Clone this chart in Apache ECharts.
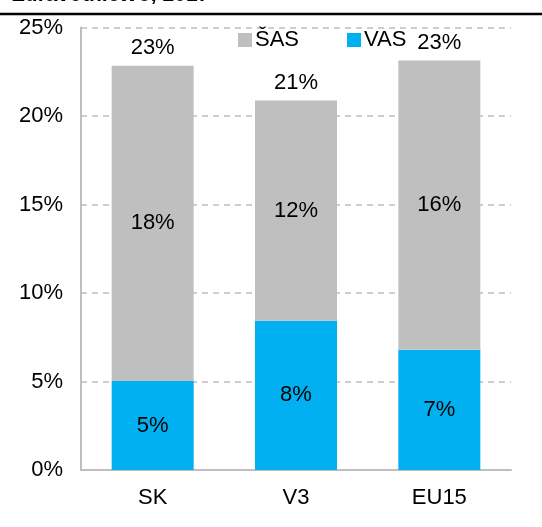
<!DOCTYPE html>
<html>
<head>
<meta charset="utf-8">
<script src="https://cdn.jsdelivr.net/npm/echarts@6/dist/echarts.min.js"></script>
<style>
  html, body { margin: 0; padding: 0; background: #fff; }
  #chart { width: 542px; height: 527px; }
</style>
</head>
<body>
<div id="chart"></div>
<script>
var categories = ['SK', 'V3', 'EU15'];
var vas = [5.03, 8.43, 6.79];
var sas = [17.81, 12.44, 16.34];
var totals = [22.84, 20.87, 23.13];
var yTicks = [0, 5, 10, 15, 20, 25];

var FONT = '"Liberation Sans Narrow", "Arial Narrow", "Liberation Sans", sans-serif';
var FS = 22;

var chart = echarts.init(document.getElementById('chart'));

var pct = function (p) { return Math.round(p.value) + '%'; };

chart.setOption({
  animation: false,
  textStyle: { fontFamily: FONT },
  grid: { left: 81, right: 31, top: 27.5, bottom: 57 },
  graphic: [
    {
      type: 'text', left: 12, top: -15,
      style: { text: 'Zdravotníctvo, 2017', font: 'bold 21px ' + FONT, fill: '#000' }
    },
    {
      type: 'line', shape: { x1: 0, y1: 14, x2: 542, y2: 14 },
      style: { stroke: '#000', lineWidth: 2.5 }
    }
  ],
  legend: {
    data: ['ŠAS', 'VAS'],
    top: 24, left: 233,
    itemWidth: 14, itemHeight: 14, itemGap: 48,
    icon: 'rect',
    textStyle: { fontFamily: FONT, fontSize: FS, color: '#000', padding: [0, 0, 0, -2] }
  },
  xAxis: {
    type: 'category',
    data: categories,
    axisLine: { lineStyle: { color: '#bfbfbf', width: 2 } },
    axisTick: { show: false },
    axisLabel: { color: '#000', fontSize: FS, margin: 17, fontFamily: FONT }
  },
  yAxis: {
    type: 'value',
    min: yTicks[0], max: yTicks[yTicks.length - 1], interval: 5,
    axisLine: { show: true, lineStyle: { color: '#bfbfbf', width: 2 } },
    axisTick: { show: false },
    splitLine: { lineStyle: { color: '#bfbfbf', type: [6, 5], width: 1.5 } },
    axisLabel: { color: '#000', fontSize: FS, margin: 18, formatter: '{value}%', fontFamily: FONT }
  },
  series: [
    {
      name: 'VAS', type: 'bar', stack: 'a', barWidth: 82,
      data: vas,
      itemStyle: { color: '#00b0f0' },
      label: { show: true, position: 'inside', color: '#000', fontSize: FS, formatter: pct, fontFamily: FONT }
    },
    {
      name: 'ŠAS', type: 'bar', stack: 'a', barWidth: 82,
      data: sas,
      itemStyle: { color: '#bfbfbf' },
      label: { show: true, position: 'inside', color: '#000', fontSize: FS, formatter: pct, fontFamily: FONT }
    },
    {
      name: 'total', type: 'bar', barWidth: 82, barGap: '-100%', z: 1,
      data: totals,
      itemStyle: { color: 'rgba(0,0,0,0)' },
      label: { show: true, position: 'top', distance: 7, color: '#000', fontSize: FS, formatter: pct, fontFamily: FONT },
      emphasis: { disabled: true }
    }
  ]
});
</script>
</body>
</html>
